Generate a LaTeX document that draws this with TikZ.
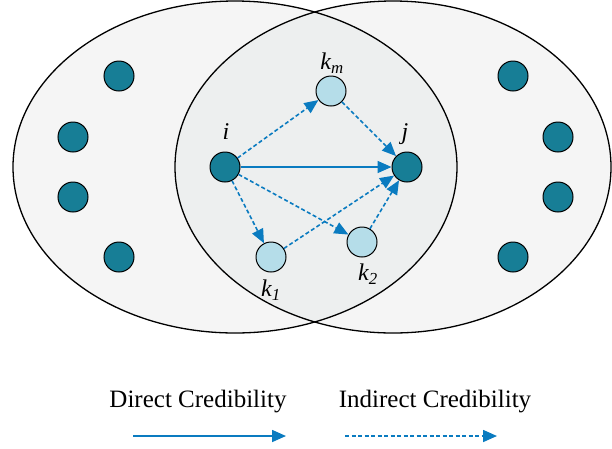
\documentclass[tikz,border=0pt]{standalone}
\usepackage{fontspec}
\setmainfont{Liberation Serif}
\usepackage{tikz}
\usetikzlibrary{arrows.meta}

\definecolor{teal}{HTML}{177E96}
\definecolor{lightblue}{HTML}{B5DDE9}
\definecolor{arrowblue}{HTML}{0A7BC0}
\definecolor{outerfill}{HTML}{F5F5F5}
\definecolor{innerfill}{HTML}{EDEFEF}

\tikzset{
	peer/.style={circle, draw=black, line width=1pt, fill=teal, minimum size=30pt, inner sep=0pt},
	witness/.style={circle, draw=black, line width=1pt, fill=lightblue, minimum size=30pt, inner sep=0pt},
	direct/.style={draw=arrowblue, line width=1.6pt, -{Triangle[length=14pt,width=12pt]}},
	indirect/.style={direct, dash pattern=on 4pt off 2.5pt},
	lbl/.style={font=\fontsize{24}{24}\selectfont\itshape},
}

\begin{document}
\begin{tikzpicture}[x=1pt,y=-1pt]
	\useasboundingbox (0,0) rectangle (612,448);

	% Draw the two communities
	\fill[outerfill] (235,167) ellipse [x radius=222, y radius=166];
	\fill[outerfill] (393,167) ellipse [x radius=218, y radius=166];
	\begin{scope}
		\clip (235,167) ellipse [x radius=222, y radius=166];
		\fill[innerfill] (393,167) ellipse [x radius=218, y radius=166];
	\end{scope}
	\draw[line width=1.3pt] (235,167) ellipse [x radius=222, y radius=166];
	\draw[line width=1.3pt] (393,167) ellipse [x radius=218, y radius=166];

	% Outer peers
	\foreach \name/\px/\py in {l1/119/76, l2/73/137, l3/73/197, l4/119/257,
		r1/513/76, r2/558/137, r3/558/197, r4/513/257}
		\node[peer] (\name) at (\px,\py) {};

	% Main peers and witnesses
	\node[peer] (i) at (225,167) {};
	\node[peer] (j) at (407,167) {};
	\node[witness] (km) at (331,91) {};
	\node[witness] (k1) at (271,257) {};
	\node[witness] (k2) at (362,242) {};

	\node[lbl] at (226,132) {i};
	\node[lbl] at (405,134) {j};
	\node[lbl] at (332,63) {k\textsubscript{m}};
	\node[lbl] at (271,290) {k\textsubscript{1}};
	\node[lbl] at (368,274) {k\textsubscript{2}};

	% Credibility arrows
	\draw[direct] (i) -- (j);
	\draw[indirect] (i) -- (km);
	\draw[indirect] (km) -- (j);
	\draw[indirect] (i) -- (k1);
	\draw[indirect] (i) -- (k2);
	\draw[indirect] (k1) -- (j);
	\draw[indirect] (k2) -- (j);

	% Legend
	\node[font=\fontsize{25}{25}\selectfont] (dlabel) at (198,402) {Direct Credibility};
	\node[font=\fontsize{25}{25}\selectfont] (ilabel) at (435,402) {Indirect Credibility};
	\coordinate (d1) at (133,436);
	\coordinate (d2) at (286,436);
	\coordinate (i1) at (345,436);
	\coordinate (i2) at (497,436);
	\draw[direct] (d1) -- (d2);
	\draw[indirect] (i1) -- (i2);
\end{tikzpicture}
\end{document}
